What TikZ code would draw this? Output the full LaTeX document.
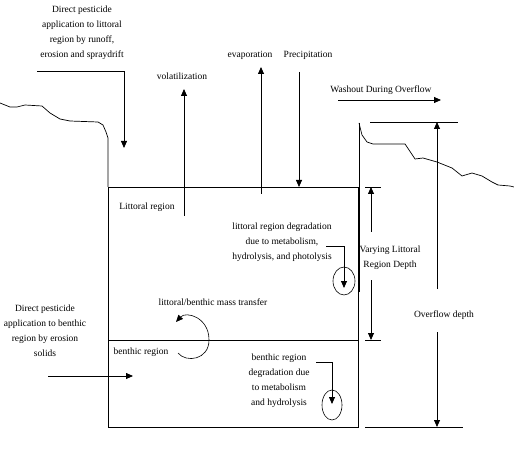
\documentclass[tikz,border=0pt]{standalone}
\usepackage{fontspec}
\setmainfont{Liberation Serif}
\usepackage{tikz}
\usetikzlibrary{arrows.meta, positioning, calc}
\definecolor{ink}{RGB}{0, 0, 0}
\tikzset{
  flow/.style={-{Triangle[length=7pt, width=6pt]}, draw=ink},
  txt/.style={align=center, inner sep=1pt, text=ink},
}

\begin{document}
\begin{tikzpicture}[x=1pt, y=-1pt, line width=0.8pt, every node/.style={font=\fontsize{9.5}{15}\selectfont}]
        % page frame
        \fill[white] (0,0) rectangle (514,449);
        \useasboundingbox (0,0) rectangle (514,449);

        % the pond: littoral and benthic regions
        \draw[ink] (108,187) rectangle (358,427);
        \draw[ink] (108,340) -- (358,340);

        % left bank
        \draw[ink, line width=0.7pt] (0,103) -- (10,107) -- (17,107) -- (25,105) -- (42,106) -- (50,113)
          -- (60,119) -- (70,121) -- (98,122) -- (103,125) -- (106,132) -- (108,138) -- (108,187);
        % right bank
        \draw[ink, line width=1.2pt] (359.5,292) -- (359.5,123);
        \draw[ink, line width=0.7pt] (359,123) -- (362,135) -- (367,142) -- (373,144) -- (405,144) -- (415,159)
          -- (423,158) -- (437,162) -- (452,168) -- (462,176) -- (472,173) -- (482,176) -- (492,182)
          -- (498,185) -- (510,186) -- (514,187);

        % depth ticks
        \foreach \xa/\xb/\y in {365/381/187, 365/381/340, 370/458/122, 365/463/427}{
          \draw[ink] (\xa,\y) -- (\xb,\y);
        }

        % direct application to littoral region
        \node[txt] (litapp) at (82,33) {Direct pesticide\\application to littoral\\region by runoff,\\erosion and spraydrift};
        \coordinate (litapp-start) at (37,71);
        \coordinate (litapp-tip) at (124,148);
        \draw[flow] (litapp-start) -| (litapp-tip);

        % fluxes across the surface
        \node[txt] (vol) at (182,76) {volatilization};
        \coordinate (vol-base) at (184,216);
        \coordinate (vol-tip) at (184,89);
        \draw[flow] (vol-base) -- (vol-tip);

        \node[txt] (evap) at (250,55) {evaporation};
        \coordinate (evap-base) at (261,194);
        \coordinate (evap-tip) at (261,67);
        \draw[flow] (evap-base) -- (evap-tip);

        \node[txt] (precip) at (308,55) {Precipitation};
        \coordinate (precip-top) at (299,72);
        \coordinate (precip-tip) at (299,187);
        \draw[flow] (precip-top) -- (precip-tip);

        \node[txt] (washout) at (381,90) {Washout During Overflow};
        \coordinate (washout-start) at (338,100);
        \coordinate (washout-tip) at (441,100);
        \draw[flow] (washout-start) -- (washout-tip);

        % region labels
        \node[txt] (littoral) at (147,207) {Littoral region};
        \node[txt] (benthic) at (141,352) {benthic region};

        % littoral degradation
        \node[txt] (litdeg) at (282,242) {littoral region degradation\\due to metabolism,\\hydrolysis, and photolysis};
        \coordinate (litdeg-start) at (326,246);
        \coordinate (litdeg-tip) at (344,288);
        \draw[flow] (litdeg-start) -| (litdeg-tip);
        \draw[ink, line width=0.6pt] (344,281) ellipse [x radius=11, y radius=14];

        % littoral / benthic exchange
        \node[txt] (transfer) at (213,302) {littoral/benthic mass transfer};
        \coordinate (transfer-start) at (178,353);
        \coordinate (transfer-tip) at (176,322);
        \draw[flow, line width=0.6pt] (transfer-start) .. controls (186,363) and (209,360) .. (209,340)
          .. controls (209,317) and (186,311) .. (transfer-tip);

        % direct application to benthic region
        \node[txt] (benapp) at (45,331) {Direct pesticide\\application to benthic\\region by erosion\\solids};
        \coordinate (benapp-start) at (48,376);
        \coordinate (benapp-tip) at (133,376);
        \draw[flow] (benapp-start) -- (benapp-tip);

        % benthic degradation
        \node[txt] (bendeg) at (279,381) {benthic region\\degradation due\\to metabolism\\and hydrolysis};
        \coordinate (bendeg-start) at (316,362);
        \coordinate (bendeg-tip) at (332,404);
        \draw[flow] (bendeg-start) -| (bendeg-tip);
        \draw[ink, line width=0.6pt] (332,405) ellipse [x radius=10, y radius=15];

        % varying littoral depth
        \node[txt] (vary) at (390,258) {Varying Littoral\\Region Depth};
        \coordinate (vary-up) at (371,232);
        \coordinate (vary-top) at (371,187);
        \coordinate (vary-down) at (371,280);
        \coordinate (vary-bot) at (371,340);
        \draw[flow] (vary-up) -- (vary-top);
        \draw[flow] (vary-down) -- (vary-bot);

        % overflow depth
        \node[txt] (overflow) at (444,315) {Overflow depth};
        \coordinate (over-up) at (437,289);
        \coordinate (over-top) at (437,122);
        \coordinate (over-down) at (437,332);
        \coordinate (over-bot) at (437,427);
        \draw[flow] (over-up) -- (over-top);
        \draw[flow] (over-down) -- (over-bot);
      \end{tikzpicture}
\end{document}
